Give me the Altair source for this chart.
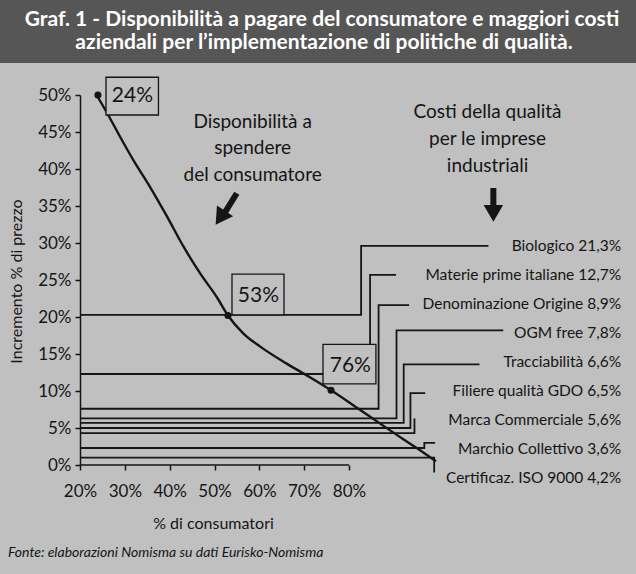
import altair as alt
import pandas as pd

BG = "#c0c0c0"
BAR = "#565656"
INK = "#151515"
FONT = "Lato"

# ---- consumer willingness curve (x = % consumers, y = % price increase)
curve_x = [23.7, 26.1, 28.9, 31.9, 35.6, 39.4, 43.1, 46.8, 50.5, 53.0, 56.4, 60.2, 66.1, 71.3, 76.0, 82.5, 88.5, 95.2, 99.4]
curve_y = [50.0, 47.5, 44.4, 41.2, 37.6, 33.6, 29.5, 25.9, 22.7, 20.2, 17.8, 16.0, 13.7, 11.85, 10.1, 7.43, 4.95, 2.25, 0.5]

marker_x = [24, 53, 76]
marker_y = [50.0, 20.2, 10.1]
marker_text = ["24%", "53%", "76%"]
box_x1 = [25.8, 53.9, 74.2]
box_x2 = [37.5, 65.5, 86.0]
box_y1 = [47.3, 20.3, 10.95]
box_y2 = [52.4, 25.8, 16.3]
box_tx = [31.7, 59.8, 80.3]
box_ty = [49.9, 22.9, 13.4]

# ---- quality costs for industrial firms
cost_labels = ["Biologico 21,3%", "Materie prime italiane 12,7%", "Denominazione Origine 8,9%",
               "OGM free 7,8%", "Tracciabilità 6,6%", "Filiere qualità GDO 6,5%",
               "Marca Commerciale 5,6%", "Marchio Collettivo 3,6%", "Certificaz. ISO 9000 4,2%"]
cost_level = [20.3, 12.3, 7.6, 6.3, 5.7, 5.0, 4.3, 2.3, 1.0]
elbow_x = [82.7, 84.7, 86.6, 90.6, 92.2, 93.7, 94.6, 96.8, 99.0]
elbow_top = [29.6, 25.7, 21.6, 18.2, 13.6, 9.7, 6.3, 3.0, -1.0]
stub_end = [111.1, 90.5, 93.4, 114.4, 109.1, 97.0, None, 99.2, None]
label_y = [29.6 - 3.92 * i for i in range(len(cost_labels))]

x_ticks = [20, 30, 40, 50, 60, 70, 80]
y_ticks = [0, 5, 10, 15, 20, 25, 30, 35, 40, 45, 50]

title_lines = ["Graf. 1 - Disponibilità a pagare del consumatore e maggiori costi",
               "aziendali per l’implementazione di politiche di qualità."]
source_text = "Fonte: elaborazioni Nomisma su dati Eurisko-Nomisma"

W, H = 538, 370
xs = alt.Scale(domain=[20, 140], nice=False, zero=False)
ys = alt.Scale(domain=[0, 50], nice=False, zero=False)

x_axis = alt.Axis(values=x_ticks, labelExpr="datum.value + '%'", domain=False,
                  grid=False, tickColor=INK, tickSize=5, tickWidth=1.5,
                  labelOverlap=False, labelFlush=False,
                  labelFont=FONT, labelFontSize=17, labelColor=INK, labelPadding=13,
                  title="% di consumatori", titleFont=FONT, titleFontSize=16,
                  titleFontWeight="normal", titleColor=INK, titleX=133, titleY=63,
                  titleBaseline="alphabetic", titleAlign="center")
y_axis = alt.Axis(values=y_ticks, labelExpr="datum.value + '%'", domain=True,
                  domainColor=INK, domainWidth=1.5, grid=False, tickColor=INK,
                  tickSize=5, tickWidth=1.5, labelOverlap=False, labelFlush=False,
                  labelFont=FONT, labelFontSize=17, labelColor=INK, labelPadding=4,
                  title="Incremento % di prezzo", titleFont=FONT, titleFontSize=16,
                  titleFontWeight="normal", titleColor=INK, titleX=-59, titleY=186,
                  titleBaseline="alphabetic", titleAlign="center", titleAngle=-90)


def X(f):
    return alt.X(f, scale=xs, axis=x_axis)


def Y(f):
    return alt.Y(f, scale=ys, axis=y_axis)


# connector polylines
rows = []
for i, name in enumerate(cost_labels):
    pts = [(20, cost_level[i]), (elbow_x[i], cost_level[i]), (elbow_x[i], elbow_top[i])]
    if stub_end[i] is not None:
        pts.append((stub_end[i], elbow_top[i]))
    for k, (px, py) in enumerate(pts):
        rows.append({"name": name, "k": k, "x": px, "y": py})
conn_df = pd.DataFrame(rows)

connectors = alt.Chart(conn_df).mark_line(color=INK, strokeWidth=1.8, clip=False).encode(
    x=X("x:Q"), y=Y("y:Q"), detail="name:N", order="k:Q")

x_base = alt.Chart(pd.DataFrame({"x": [20], "x2": [80], "y": [0]})).mark_rule(color=INK, strokeWidth=1.5).encode(
    x=X("x:Q"), x2="x2:Q", y=Y("y:Q"))

curve = alt.Chart(pd.DataFrame({"x": curve_x, "y": curve_y})).mark_line(
    color=INK, strokeWidth=2.4, interpolate="monotone", clip=False).encode(x=X("x:Q"), y=Y("y:Q"))

markers = alt.Chart(pd.DataFrame({"x": marker_x, "y": marker_y})).mark_point(
    filled=True, color=INK, size=50, opacity=1, shape="circle").encode(x=X("x:Q"), y=Y("y:Q"))

box_df = pd.DataFrame({"x1": box_x1, "x2": box_x2, "y1": box_y1, "y2": box_y2,
                       "tx": box_tx, "ty": box_ty, "t": marker_text})
boxes = alt.Chart(box_df).mark_rect(fill=BG, stroke=INK, strokeWidth=1.3, clip=False).encode(
    x=X("x1:Q"), x2="x2:Q", y=Y("y1:Q"), y2="y2:Q")
box_text = alt.Chart(box_df).mark_text(font=FONT, fontSize=21, color=INK, baseline="middle", align="center").encode(
    x=X("tx:Q"), y=Y("ty:Q"), text="t:N")

labels = alt.Chart(pd.DataFrame({"t": cost_labels, "y": label_y, "x": [140.7] * len(cost_labels)})).mark_text(
    font=FONT, fontSize=15.5, color=INK, align="right", baseline="middle").encode(
    x=X("x:Q"), y=Y("y:Q"), text="t:N")

ann_df = pd.DataFrame({
    "t": ["Disponibilità a", "spendere", "del consumatore", "Costi della qualità", "per le imprese", "industriali"],
    "x": [58.5, 58.5, 58.5, 110.9, 110.9, 110.9],
    "y": [46.35, 42.84, 39.19, 47.7, 44.05, 40.4],
})
annotations = alt.Chart(ann_df).mark_text(font=FONT, fontSize=19, color=INK, align="center", baseline="middle").encode(
    x=X("x:Q"), y=Y("y:Q"), text="t:N")

# arrows
shaft_df = pd.DataFrame({"a": ["a1", "a1", "a2", "a2"], "x": [54.97, 52.3, 112.2, 112.2], "y": [36.72, 34.1, 37.43, 34.8]})
shafts = alt.Chart(shaft_df).mark_line(color=INK, strokeWidth=6, strokeCap="butt").encode(
    x=X("x:Q"), y=Y("y:Q"), detail="a:N")
head_df = pd.DataFrame({"x": [51.3, 112.2], "y": [33.4, 34.0], "ang": [214, 180]})
heads = alt.Chart(head_df).mark_point(shape="triangle-up", filled=True, color=INK, size=380, opacity=1).encode(
    x=X("x:Q"), y=Y("y:Q"), angle=alt.Angle("ang:Q", scale=None))

# title bar and source (page decoration)
bar = alt.Chart(pd.DataFrame({"k": [0]})).mark_rect(color=BAR).encode(
    x=alt.value(-80), x2=alt.value(556), y=alt.value(-95), y2=alt.value(-32))
title1 = alt.Chart(pd.DataFrame({"t": [title_lines[0]]})).mark_text(
    font=FONT, fontWeight="bold", fontSize=21, color="white", align="center", baseline="alphabetic").encode(
    x=alt.value(242), y=alt.value(-69), text="t:N")
title2 = alt.Chart(pd.DataFrame({"t": [title_lines[1]]})).mark_text(
    font=FONT, fontWeight="bold", fontSize=21, color="white", align="center", baseline="alphabetic").encode(
    x=alt.value(244), y=alt.value(-46), text="t:N")
source = alt.Chart(pd.DataFrame({"t": [source_text]})).mark_text(
    font=FONT, fontStyle="italic", fontSize=14, color=INK, align="left", baseline="middle").encode(
    x=alt.value(-72), y=alt.value(458), text="t:N")

chart = alt.layer(bar, title1, title2, connectors, x_base, curve, boxes, box_text, markers, labels, annotations,
                  shafts, heads, source).properties(
    width=W, height=H,
    autosize=alt.AutoSizeParams(type="none"),
    padding={"left": 80, "top": 95, "right": 18, "bottom": 109},
    background=BG,
).configure_view(strokeWidth=0)

chart.save("out.html", embed_options={"renderer": "svg", "actions": False})
